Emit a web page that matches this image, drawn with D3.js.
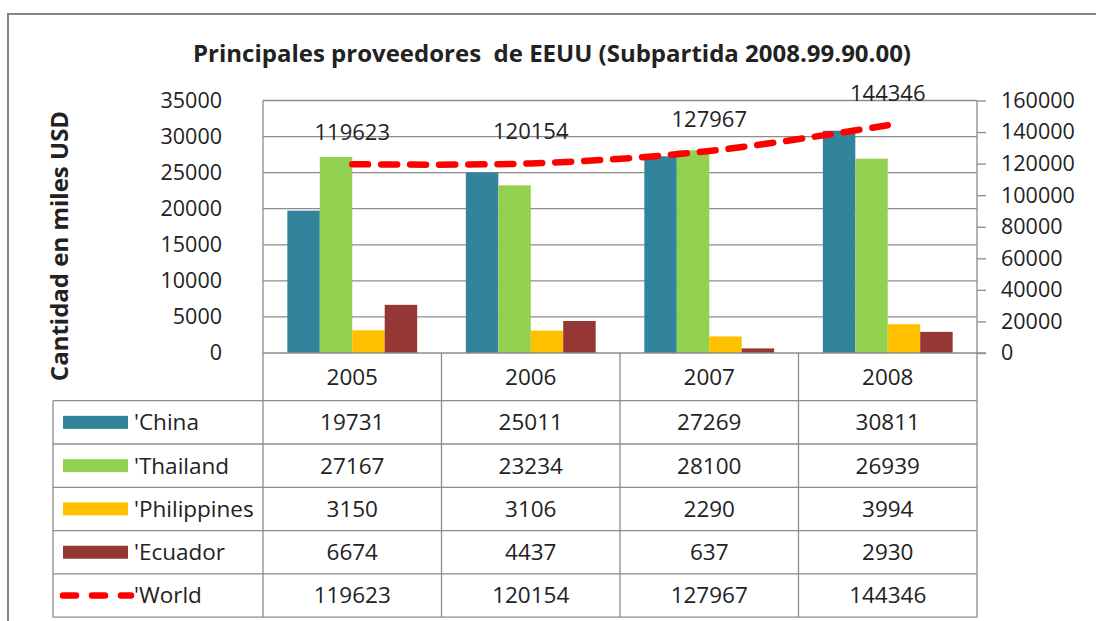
<!DOCTYPE html>
<html>
<head>
<meta charset="utf-8">
<script src="https://cdn.jsdelivr.net/npm/d3@7"></script>
<style>
  body { margin: 0; background: #fff; }
  text { font-family: "Open Sans", sans-serif; fill: #222; }
</style>
</head>
<body>
<div id="chart-area"></div>
<script>
// data
const years = ["2005", "2006", "2007", "2008"];
const seriesNames = ["'China", "'Thailand", "'Philippines", "'Ecuador"];
const china = [19731, 25011, 27269, 30811];
const thailand = [27167, 23234, 28100, 26939];
const philippines = [3150, 3106, 2290, 3994];
const ecuador = [6674, 4437, 637, 2930];
const world = [119623, 120154, 127967, 144346];
const leftTicks = [0, 5000, 10000, 15000, 20000, 25000, 30000, 35000];
const rightTicks = [0, 20000, 40000, 60000, 80000, 100000, 120000, 140000, 160000];
const colors = ["#31849b", "#92d050", "#ffc000", "#953735"];

const barSeries = [china, thailand, philippines, ecuador];

const W = 1096, H = 621;
const plot = { left: 263, right: 977, top: 100.5, bottom: 353 };
const rowH = 43.3;
const headerBottom = 400.7;
const tableLeft = 53;

var svg = d3.select("#chart-area")
	.append("svg")
		.attr("width", W)
		.attr("height", H);

// outer chart border
svg.append("rect")
	.attr("x", 8).attr("y", 14)
	.attr("width", W + 20).attr("height", H + 20)
	.attr("fill", "none")
	.attr("stroke", "#868686")
	.attr("stroke-width", 2);

// title
svg.append("text")
	.attr("x", 552)
	.attr("y", 62)
	.attr("text-anchor", "middle")
	.attr("font-size", 24)
	.attr("font-weight", "bold")
	.style("white-space", "pre")
	.text("Principales proveedores  de EEUU (Subpartida 2008.99.90.00)");

// y title
svg.append("text")
	.attr("transform", "translate(68, 246) rotate(-90)")
	.attr("text-anchor", "middle")
	.attr("font-size", 24)
	.attr("font-weight", "bold")
	.text("Cantidad en miles USD");

// scales
var x = d3.scaleBand()
	.domain(years)
	.range([plot.left, plot.right]);

var bw = x.bandwidth();
var gap = bw * 0.75 / 5.5;
var xs = d3.scaleBand()
	.domain(d3.range(seriesNames.length))
	.range([gap, bw - gap]);

var y = d3.scaleLinear()
	.domain([0, 35000])
	.range([plot.bottom, plot.top]);

var y2 = d3.scaleLinear()
	.domain([0, 160000])
	.range([plot.bottom, plot.top]);

// gridlines
svg.append("g")
	.selectAll("line")
	.data(leftTicks.slice(1))
	.enter()
	.append("line")
		.attr("x1", plot.left).attr("x2", plot.right)
		.attr("y1", d => y(d)).attr("y2", d => y(d))
		.attr("stroke", "#8c8c8c")
		.attr("stroke-width", 1.3);

// left plot border
svg.append("line")
	.attr("x1", plot.left).attr("x2", plot.left)
	.attr("y1", plot.top).attr("y2", headerBottom + rowH * 5)
	.attr("stroke", "#8c8c8c").attr("stroke-width", 1.3);

// left axis
var yAxisCall = d3.axisLeft(y).tickValues(leftTicks).tickFormat(d3.format("d")).tickSize(0).tickPadding(41);
var gy = svg.append("g")
	.attr("transform", "translate(" + plot.left + ",0)")
	.call(yAxisCall);
gy.select(".domain").remove();
gy.selectAll("text").attr("font-size", 21.5).attr("fill", "#222").style("font-family", "Open Sans");

// right axis
var y2AxisCall = d3.axisRight(y2).tickValues(rightTicks).tickFormat(d3.format("d")).tickSize(9).tickPadding(15);
var gy2 = svg.append("g")
	.attr("transform", "translate(" + plot.right + ",0)")
	.call(y2AxisCall);
gy2.selectAll("line, path").attr("stroke", "#8c8c8c").attr("stroke-width", 1.3);
gy2.select(".domain").attr("d", "M0," + plot.top + "V" + (headerBottom + rowH * 5));
gy2.selectAll("text").attr("font-size", 21.5).attr("fill", "#222").style("font-family", "Open Sans");

// bars
barSeries.forEach((vals, s) => {
	svg.append("g")
		.selectAll("rect")
		.data(vals)
		.enter()
		.append("rect")
			.attr("x", (d, i) => x(years[i]) + xs(s))
			.attr("y", d => y(d))
			.attr("width", xs.bandwidth())
			.attr("height", d => plot.bottom - y(d))
			.attr("fill", colors[s]);
});

// x axis baseline
svg.append("line")
	.attr("x1", plot.left).attr("x2", plot.right + 9)
	.attr("y1", plot.bottom).attr("y2", plot.bottom)
	.attr("stroke", "#8c8c8c").attr("stroke-width", 1.3);

// world line
var line = d3.line()
	.x((d, i) => x(years[i]) + bw / 2)
	.y(d => y2(d))
	.curve(d3.curveCatmullRom);

svg.append("path")
	.datum(world)
	.attr("d", line)
	.attr("fill", "none")
	.attr("stroke", "#ff0000")
	.attr("stroke-width", 6.5)
	.attr("stroke-linecap", "round")
	.attr("stroke-dasharray", "16,13");

svg.append("g")
	.selectAll("text")
	.data(world)
	.enter()
	.append("text")
		.attr("x", (d, i) => x(years[i]) + bw / 2)
		.attr("y", d => y2(d) - 32)
		.attr("dy", "0.35em")
		.attr("text-anchor", "middle")
		.attr("font-size", 22)
		.text(d => d);

// data table
var tableRows = [china, thailand, philippines, ecuador, world];
var tableBottom = headerBottom + rowH * tableRows.length;
var tg = svg.append("g");

// horizontal lines
tg.selectAll("line.h")
	.data(d3.range(tableRows.length + 1))
	.enter()
	.append("line")
		.attr("x1", tableLeft).attr("x2", plot.right)
		.attr("y1", i => headerBottom + i * rowH).attr("y2", i => headerBottom + i * rowH)
		.attr("stroke", "#8c8c8c").attr("stroke-width", 1.3);

// vertical lines
tg.append("line")
	.attr("x1", tableLeft).attr("x2", tableLeft)
	.attr("y1", headerBottom).attr("y2", tableBottom)
	.attr("stroke", "#8c8c8c").attr("stroke-width", 1.3);
tg.selectAll("line.v")
	.data(years.slice(1))
	.enter()
	.append("line")
		.attr("x1", d => x(d)).attr("x2", d => x(d))
		.attr("y1", plot.bottom).attr("y2", tableBottom)
		.attr("stroke", "#8c8c8c").attr("stroke-width", 1.3);

// year header
tg.selectAll("text.year")
	.data(years)
	.enter()
	.append("text")
		.attr("x", d => x(d) + bw / 2)
		.attr("y", (plot.bottom + headerBottom) / 2)
		.attr("dy", "0.35em")
		.attr("text-anchor", "middle")
		.attr("font-size", 22.5)
		.text(d => d);

// values
tableRows.forEach((vals, r) => {
	tg.append("g")
		.selectAll("text")
		.data(vals)
		.enter()
		.append("text")
			.attr("x", (d, i) => x(years[i]) + bw / 2)
			.attr("y", headerBottom + rowH * (r + 0.5))
			.attr("dy", "0.35em")
			.attr("text-anchor", "middle")
			.attr("font-size", 22.5)
			.text(d => d);
});

// legend keys
seriesNames.forEach((name, r) => {
	var cy = headerBottom + rowH * (r + 0.5);
	tg.append("rect")
		.attr("x", 63).attr("y", cy - 6.5)
		.attr("width", 65).attr("height", 13)
		.attr("fill", colors[r]);
	tg.append("text")
		.attr("x", 134).attr("y", cy)
		.attr("dy", "0.35em")
		.attr("font-size", 22.5)
		.text(name);
});
var wy = headerBottom + rowH * 4.5;
tg.append("path")
	.attr("d", "M63," + wy + "H131")
	.attr("stroke", "#ff0000")
	.attr("stroke-width", 6.5)
	.attr("stroke-linecap", "round")
	.attr("stroke-dasharray", "13,16");
tg.append("text")
	.attr("x", 134).attr("y", wy)
	.attr("dy", "0.35em")
	.attr("font-size", 22.5)
	.text("'World");
</script>
</body>
</html>
